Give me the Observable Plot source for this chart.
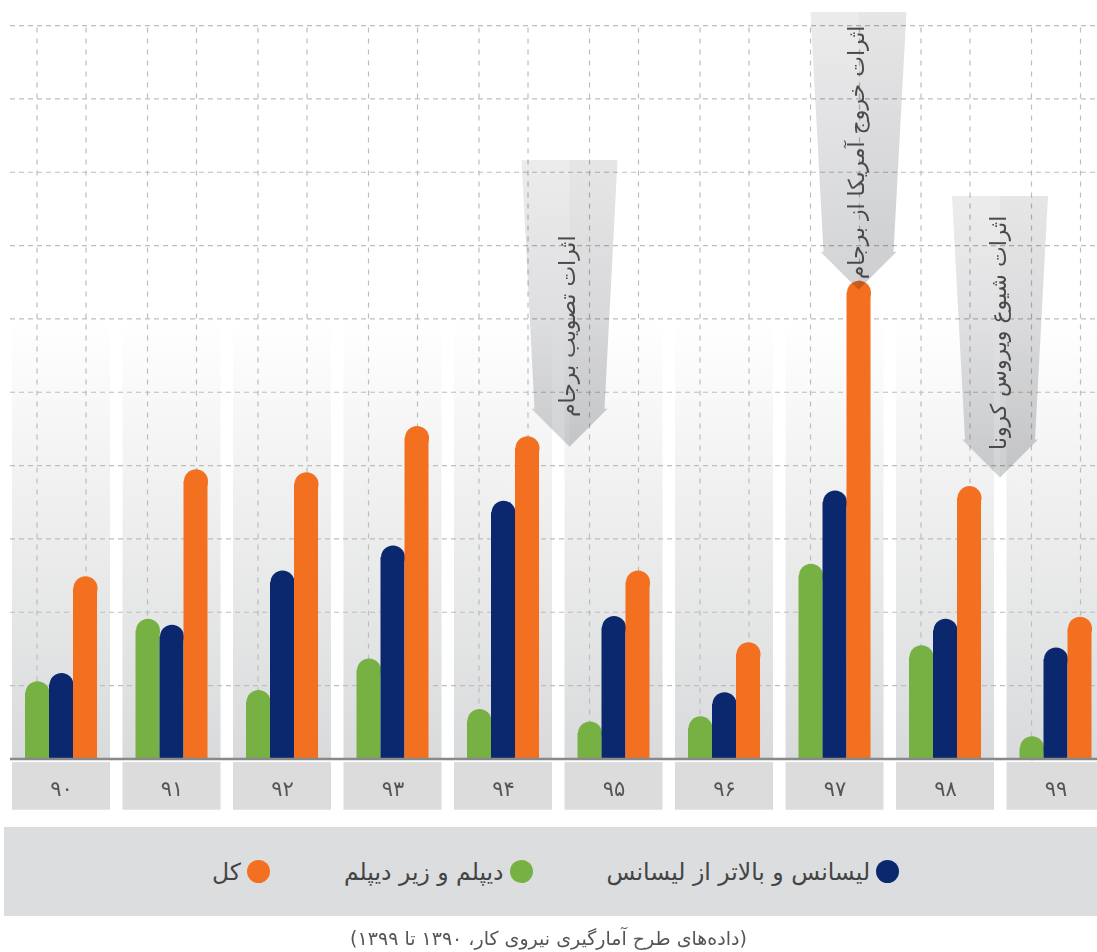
<!DOCTYPE html>
<html lang="fa">
<head>
<meta charset="utf-8">
<script src="https://cdn.jsdelivr.net/npm/d3@7"></script>
<script src="https://cdn.jsdelivr.net/npm/@observablehq/plot@0.6"></script>
<style>
  html, body { margin: 0; padding: 0; background: #fff; }
  body { width: 1097px; height: 952px; overflow: hidden; position: relative; font-family: "DejaVu Sans", sans-serif; }
  #chart svg { display: block; }
  #legend {
    position: absolute; left: 4px; top: 827px; width: 1083px; height: 89px; padding-left: 10px;
    background: #dcdddf; display: flex; direction: rtl; justify-content: center;
    align-items: center; gap: 74px; font-size: 23.5px; color: #444;
  }
  .item { display: flex; align-items: center; gap: 6px; }
  .sw { width: 23px; height: 23px; border-radius: 50%; display: inline-block; }
  #caption {
    position: absolute; left: 0; top: 927px; width: 1097px; text-align: center;
    font-size: 19px; color: #555; direction: rtl;
  }
</style>
</head>
<body>
<div id="chart"></div>
<div id="legend"></div>
<div id="caption"></div>
<script>
// ---------------- data ----------------
const years = ["۹۰", "۹۱", "۹۲", "۹۳", "۹۴", "۹۵", "۹۶", "۹۷", "۹۸", "۹۹"];
const bachelorAndAbove = [1.17, 1.83, 2.57, 2.91, 3.52, 1.95, 0.91, 3.66, 1.91, 1.52];
const diplomaAndBelow = [1.06, 1.91, 0.94, 1.37, 0.68, 0.51, 0.58, 2.66, 1.55, 0.31];
const total = [2.49, 3.95, 3.91, 4.54, 4.40, 2.57, 1.59, 6.52, 3.72, 1.94];
const seriesNames = ["لیسانس و بالاتر از لیسانس", "دیپلم و زیر دیپلم", "کل"];
const gridValues = [1, 2, 3, 4, 5, 6, 7, 8, 9, 10];
const eventYears = ["۹۵", "۹۷", "۹۸"];
const eventLabels = ["اثرات تصویب برجام", "اثرات خروج آمریکا از برجام", "اثرات شیوع ویروس کرونا"];
const captionText = "(داده‌های طرح آمارگیری نیروی کار، ۱۳۹۰ تا ۱۳۹۹)";

// ---------------- layout / style ----------------
const colors = { bachelor: "#0b286e", diploma: "#77b043", total: "#f37021" };
const arrowLayout = [
  { dx: -44, top: 8.16, tip: 4.25, textY: 5.90 },
  { dx: 24, top: 10.18, tip: 6.39, textY: 8.27 },
  { dx: 55, top: 7.67, tip: 3.83, textY: 5.81 }
];
const COLUMN_TOP = 6.0;
const BOX_TOP = -0.05, BOX_BOTTOM = -0.70, LABEL_Y = -0.42;
const HEAD_H = 38;

const mk = (arr) => years.map((year, i) => ({ year, value: arr[i] }));
const series = [
  { data: mk(diplomaAndBelow), color: colors.diploma, off: -24 },
  { data: mk(bachelorAndAbove), color: colors.bachelor, off: 0 },
  { data: mk(total), color: colors.total, off: 24 }
];
const events = eventYears.map((year, i) => ({ year, label: eventLabels[i], ...arrowLayout[i] }));

function arrowsMark(index, scales) {
  const { x, y } = scales;
  const bw = typeof x.bandwidth === "function" ? x.bandwidth() : 0;
  const g = d3.create("svg:g");
  const defs = g.append("defs");
  const ag = defs.append("linearGradient").attr("id", "arrowGrad")
    .attr("x1", 0).attr("y1", 0).attr("x2", 0).attr("y2", 1);
  ag.append("stop").attr("offset", "0%").attr("stop-color", "#ececed");
  ag.append("stop").attr("offset", "100%").attr("stop-color", "#d2d3d5");
  for (const a of events) {
    const cx = x(a.year) + bw / 2 + a.dx;
    const yt = y(a.top), yp = y(a.tip), yh = yp - HEAD_H;
    const pts = [[cx - 48, yt], [cx + 48, yt], [cx + 35, yh], [cx + 38, yh], [cx, yp], [cx - 38, yh], [cx - 35, yh]];
    g.append("polygon").attr("points", pts.map(p => p.join(",")).join(" "))
      .attr("fill", "url(#arrowGrad)").style("mix-blend-mode", "multiply");
    // subtle shading on the right half of the arrow
    const right = [[cx, yt], [cx + 48, yt], [cx + 35, yh], [cx + 38, yh], [cx, yp]];
    g.append("polygon").attr("points", right.map(p => p.join(",")).join(" "))
      .attr("fill", "#000").attr("fill-opacity", 0.025);
  }
  return g.node();
}

function defsMark() {
  const g = d3.create("svg:g");
  const cg = g.append("defs").append("linearGradient").attr("id", "colGrad")
    .attr("x1", 0).attr("y1", 0).attr("x2", 0).attr("y2", 1);
  cg.append("stop").attr("offset", "0%").attr("stop-color", "#ffffff");
  cg.append("stop").attr("offset", "100%").attr("stop-color", "#d9dadb");
  return g.node();
}

const marks = [
  defsMark,
  Plot.barY(years, { x: d => d, y1: 0, y2: COLUMN_TOP, fill: "url(#colGrad)" }),
  Plot.ruleY(gridValues, { stroke: "#bdbdbd", strokeWidth: 1.2, strokeDasharray: "5,4" }),
  Plot.ruleX(years, { x: d => d, y1: 0, y2: 10, dx: -24.5, stroke: "#bdbdbd", strokeWidth: 1.2, strokeDasharray: "5,6" }),
  Plot.ruleX(years, { x: d => d, y1: 0, y2: 10, dx: 24.5, stroke: "#bdbdbd", strokeWidth: 1.2, strokeDasharray: "5,6" })
];
for (const s of series) {
  marks.push(Plot.barY(s.data, { x: "year", y: "value", fill: s.color, insetLeft: 37 + s.off, insetRight: 37 - s.off, insetTop: 12 }));
  marks.push(Plot.dot(s.data, { x: "year", y: "value", r: 12, dx: s.off, dy: 12, fill: s.color }));
}
marks.push(
  Plot.ruleY([0], { stroke: "#88898b", strokeWidth: 2.5 }),
  Plot.barY(years, { x: d => d, y1: BOX_TOP, y2: BOX_BOTTOM, fill: "#dcdcdd" }),
  Plot.text(years, { x: d => d, y: LABEL_Y, text: d => d, fontSize: 21, fill: "#555" }),
  arrowsMark
);
for (const ev of events) {
  marks.push(Plot.text([ev], { x: "year", y: "textY", text: "label", dx: ev.dx - 2, rotate: -90, fontSize: 22, fill: "#4a4a4a" }));
}

const chart = Plot.plot({
  width: 1097,
  height: 812,
  marginLeft: 10, marginRight: 0, marginTop: 0, marginBottom: 0,
  style: { fontFamily: "DejaVu Sans, sans-serif", background: "#fff", overflow: "visible" },
  x: { type: "band", domain: years, range: [5.76, 1110.76], paddingInner: 0.113, paddingOuter: 0.0565, round: false, axis: null },
  y: { domain: [0, 10], range: [758.4, 25.1], axis: null },
  marks
});
document.getElementById("chart").append(chart);

// legend
const legend = d3.select("#legend");
const legendColors = [colors.bachelor, colors.diploma, colors.total];
seriesNames.forEach((name, i) => {
  const it = legend.append("div").attr("class", "item");
  it.append("span").attr("class", "sw").style("background", legendColors[i]);
  it.append("span").text(name);
});
document.getElementById("caption").textContent = captionText;
</script>
</body>
</html>
